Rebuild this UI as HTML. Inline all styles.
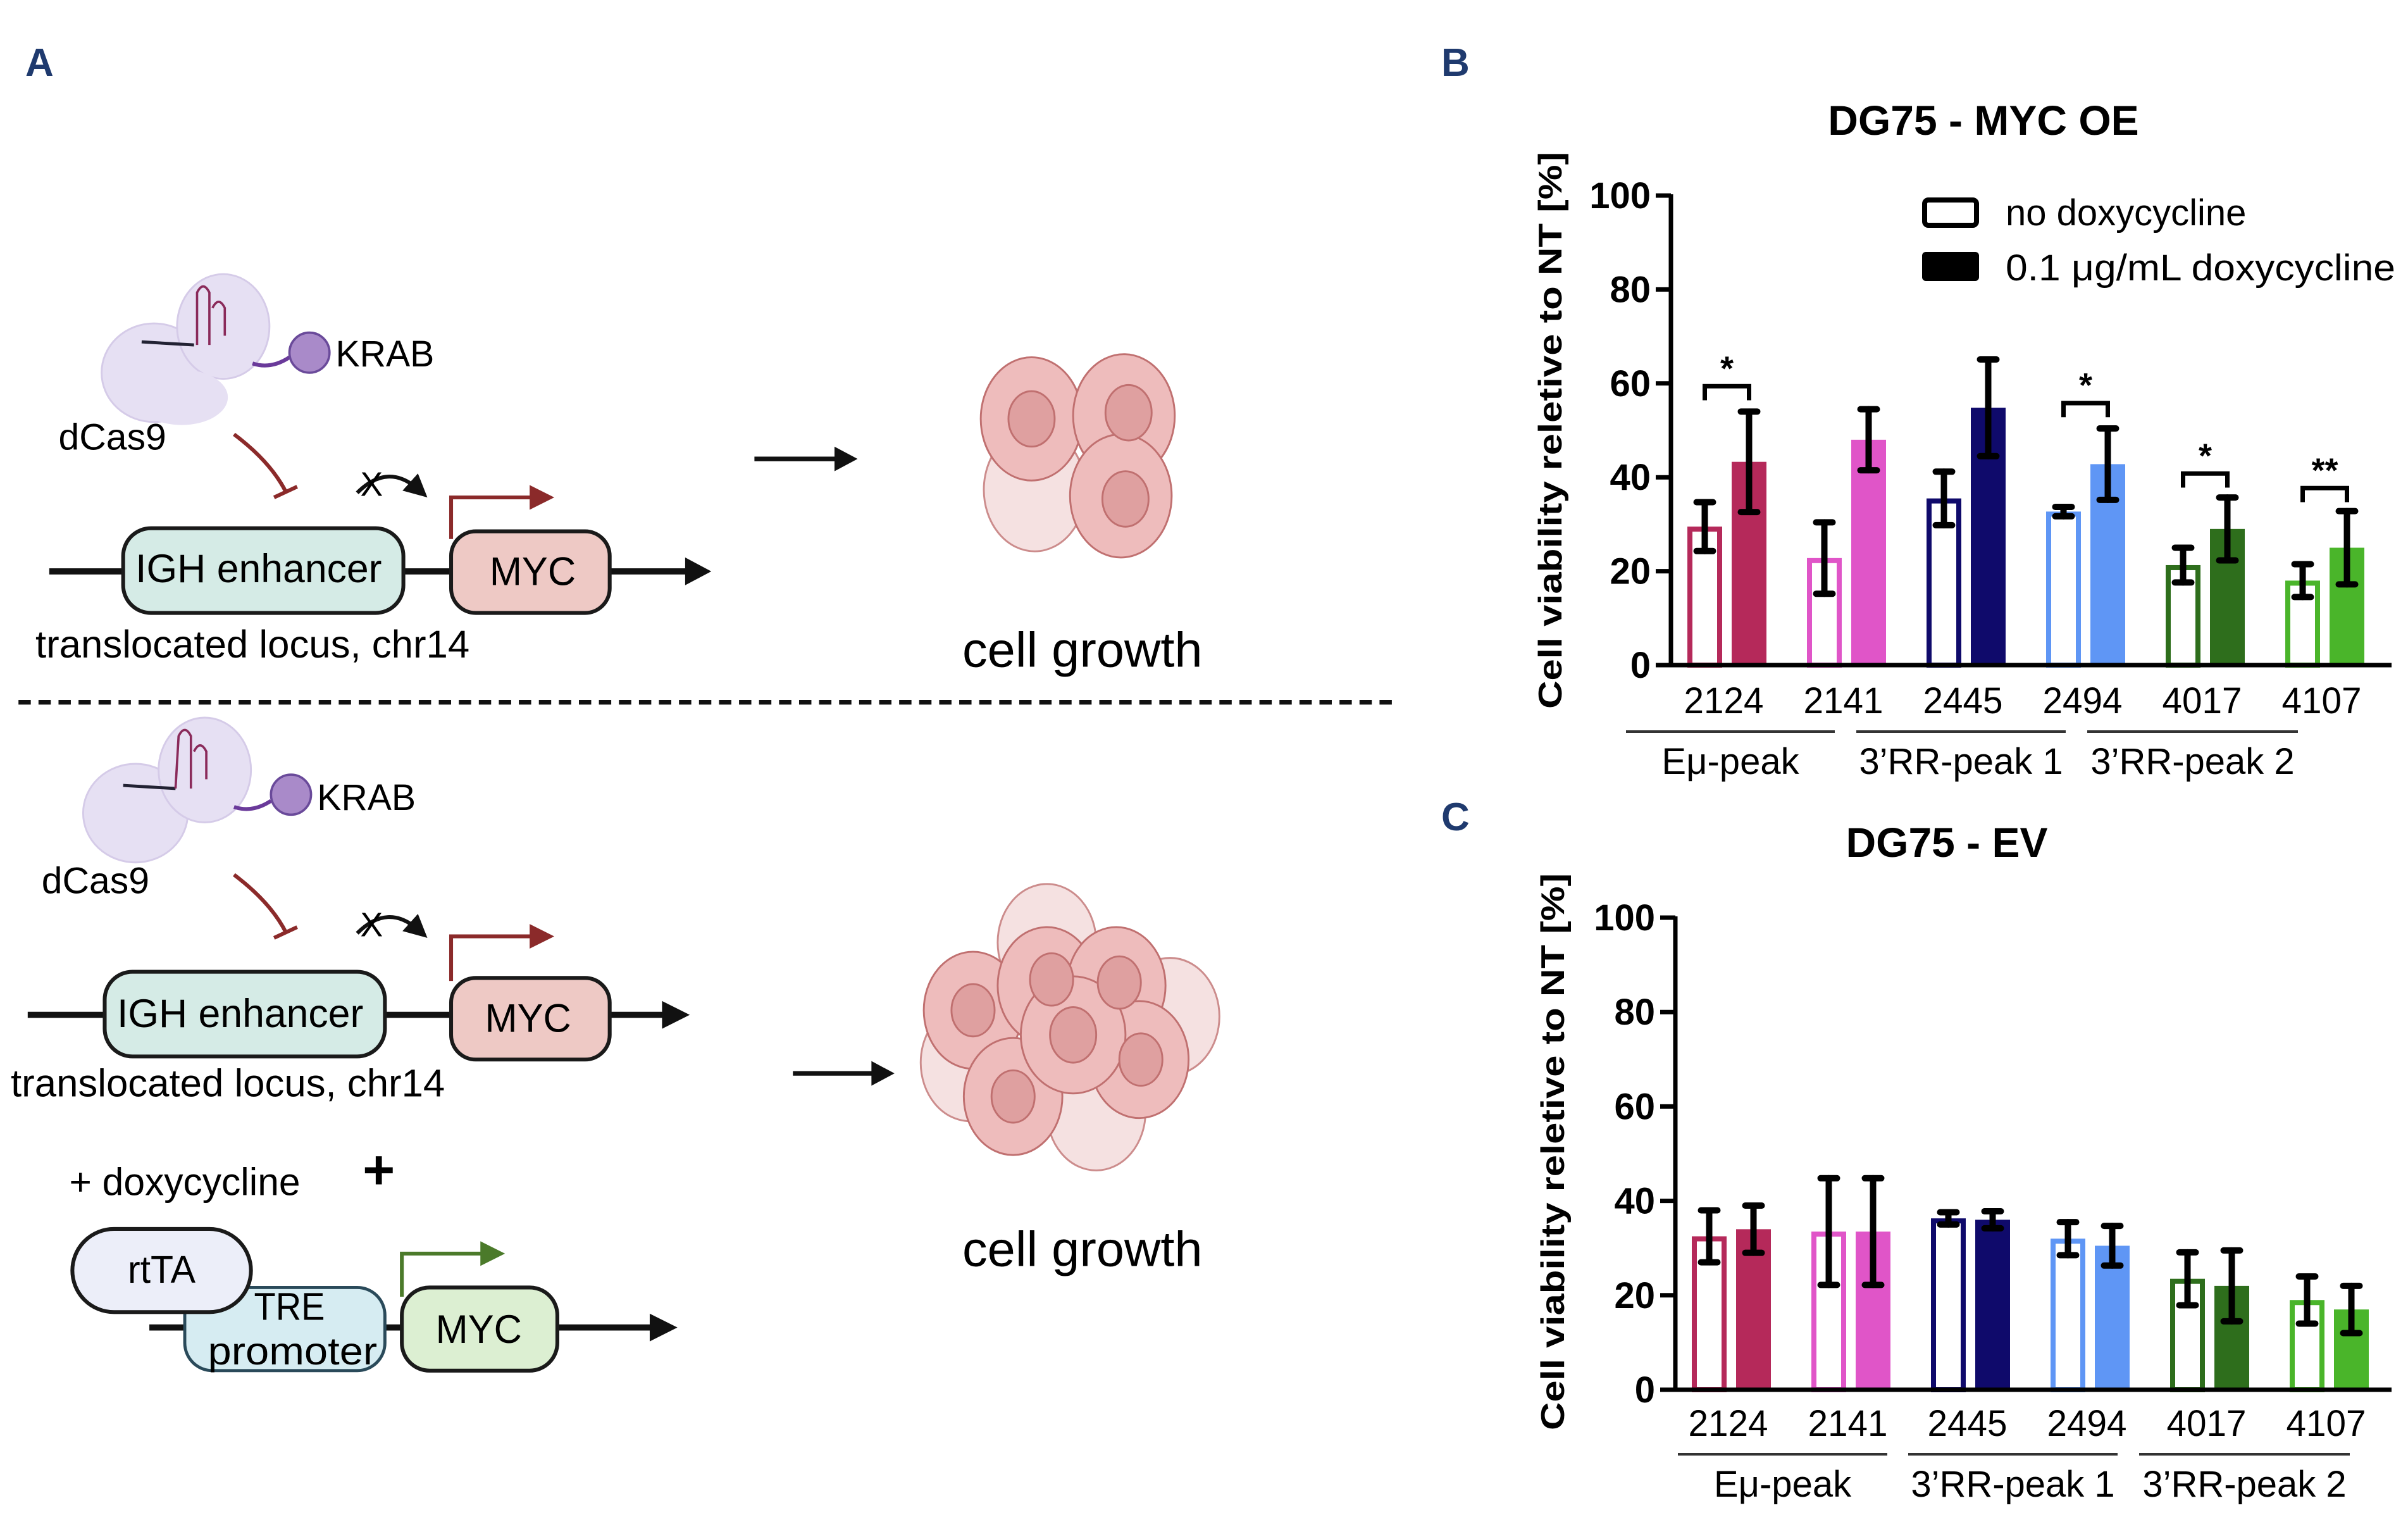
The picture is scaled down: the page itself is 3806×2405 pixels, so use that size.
<!DOCTYPE html>
<html><head><meta charset="utf-8">
<style>
html,body{margin:0;padding:0;background:#fff;}
svg{display:block;}
text{font-family:"Liberation Sans",Arial,sans-serif;}
</style></head>
<body>
<svg id="fig" width="3806" height="2405" viewBox="0 0 3806 2405" xmlns="http://www.w3.org/2000/svg">
<rect width="3806" height="2405" fill="#fff"/>
<text x="40" y="120" font-size="62" font-weight="bold" fill="#1f3a6e">A</text>
<text x="2278" y="120" font-size="62" font-weight="bold" fill="#1f3a6e">B</text>
<text x="2278" y="1312" font-size="62" font-weight="bold" fill="#1f3a6e">C</text>

<g transform="scale(2.4335)">
  <defs>
    <marker id="ah" markerWidth="6" markerHeight="6" refX="3" refY="3" orient="auto"><path d="M0,0 L6,3 L0,6 z" fill="#111"/></marker>
  </defs>
  <g>
    <ellipse cx="100" cy="242" rx="34" ry="32" fill="#e6e0f3" stroke="#d5cbe8" stroke-width="1.2"/>
    <ellipse cx="145" cy="212" rx="30" ry="34" fill="#e6e0f3" stroke="#d5cbe8" stroke-width="1.2"/>
    <ellipse cx="118" cy="258" rx="30" ry="18" fill="#e6e0f3"/>
    <path d="M128,224 L128,190 Q132,182 136,190 L136,224 M138,200 Q142,192 146,200 L146,218" stroke="#8a2a5a" stroke-width="1.5" fill="none"/>
    <line x1="92" y1="222" x2="126" y2="224" stroke="#223" stroke-width="2"/>
    <path d="M164,236 Q176,240 188,232" stroke="#6a3a9a" stroke-width="2.5" fill="none"/>
    <circle cx="201" cy="229" r="13" fill="#a98ac9" stroke="#6a4a9a" stroke-width="1.5"/>
  </g>
  <text x="218" y="238" font-size="24" textLength="64" lengthAdjust="spacingAndGlyphs">KRAB</text>
  <text x="38" y="292" font-size="24" textLength="70" lengthAdjust="spacingAndGlyphs">dCas9</text>
  <path d="M152,282 Q176,300 186,320" stroke="#8b2a2a" stroke-width="2.5" fill="none"/>
  <line x1="178" y1="323" x2="193" y2="316" stroke="#8b2a2a" stroke-width="2.5"/>
  <path d="M232,320 Q252,300 272,318" stroke="#111" stroke-width="2.5" fill="none" marker-end="url(#ah)"/>
  <text x="234" y="322" font-size="22">X</text>
  <path d="M293,350 L293,323 L346,323" stroke="#8b2a2a" stroke-width="2.5" fill="none"/>
  <path d="M344,315 L360,323 L344,331 z" fill="#8b2a2a"/>
  <line x1="32" y1="371" x2="448" y2="371" stroke="#111" stroke-width="4"/>
  <path d="M445,362 L462,371 L445,380 z" fill="#111"/>
  <rect x="80" y="343" width="182" height="55" rx="18" fill="#d5ebe6" stroke="#1a1a1a" stroke-width="2.5"/>
  <text x="168" y="378" font-size="26" text-anchor="middle" textLength="160" lengthAdjust="spacingAndGlyphs">IGH enhancer</text>
  <rect x="293" y="345" width="103" height="53" rx="16" fill="#eec9c5" stroke="#1a1a1a" stroke-width="2.5"/>
  <text x="346" y="380" font-size="26" text-anchor="middle" textLength="56" lengthAdjust="spacingAndGlyphs">MYC</text>
  <text x="23" y="427" font-size="25" textLength="282" lengthAdjust="spacingAndGlyphs">translocated locus, chr14</text>
  <line x1="490" y1="298" x2="545" y2="298" stroke="#111" stroke-width="3"/>
  <path d="M542,290 L557,298 L542,306 z" fill="#111"/>
  <g stroke="#c07070" stroke-width="1.2">
    <ellipse cx="672" cy="318" rx="33" ry="40" fill="#f3dada" opacity="0.8"/>
    <ellipse cx="670" cy="272" rx="33" ry="40" fill="#eebcbc"/>
    <ellipse cx="730" cy="270" rx="33" ry="40" fill="#eebcbc"/>
    <ellipse cx="728" cy="322" rx="33" ry="40" fill="#eebcbc"/>
    <ellipse cx="670" cy="272" rx="15" ry="18" fill="#dfa0a0"/>
    <ellipse cx="733" cy="268" rx="15" ry="18" fill="#dfa0a0"/>
    <ellipse cx="731" cy="324" rx="15" ry="18" fill="#dfa0a0"/>
  </g>
  <text x="703" y="433" font-size="32" text-anchor="middle" textLength="156" lengthAdjust="spacingAndGlyphs">cell growth</text>
  <line x1="12" y1="456" x2="905" y2="456" stroke="#111" stroke-width="3" stroke-dasharray="8,5"/>
  <g>
    <ellipse cx="88" cy="528" rx="34" ry="32" fill="#e6e0f3" stroke="#d5cbe8" stroke-width="1.2"/>
    <ellipse cx="133" cy="500" rx="30" ry="34" fill="#e6e0f3" stroke="#d5cbe8" stroke-width="1.2"/>
    <line x1="80" y1="510" x2="114" y2="512" stroke="#223" stroke-width="2"/>
    <path d="M114,512 L116,478 Q120,470 124,478 L124,512 M126,488 Q130,480 134,488 L134,506" stroke="#8a2a5a" stroke-width="1.5" fill="none"/>
    <path d="M152,524 Q164,528 176,520" stroke="#6a3a9a" stroke-width="2.5" fill="none"/>
    <circle cx="189" cy="516" r="13" fill="#a98ac9" stroke="#6a4a9a" stroke-width="1.5"/>
  </g>
  <text x="206" y="526" font-size="24" textLength="64" lengthAdjust="spacingAndGlyphs">KRAB</text>
  <text x="27" y="580" font-size="24" textLength="70" lengthAdjust="spacingAndGlyphs">dCas9</text>
  <path d="M152,568 Q176,586 186,606" stroke="#8b2a2a" stroke-width="2.5" fill="none"/>
  <line x1="178" y1="609" x2="193" y2="602" stroke="#8b2a2a" stroke-width="2.5"/>
  <path d="M232,606 Q252,586 272,604" stroke="#111" stroke-width="2.5" fill="none" marker-end="url(#ah)"/>
  <text x="234" y="608" font-size="22">X</text>
  <path d="M293,637 L293,608 L346,608" stroke="#8b2a2a" stroke-width="2.5" fill="none"/>
  <path d="M344,600 L360,608 L344,616 z" fill="#8b2a2a"/>
  <line x1="18" y1="659" x2="432" y2="659" stroke="#111" stroke-width="4"/>
  <path d="M430,650 L448,659 L430,668 z" fill="#111"/>
  <rect x="68" y="631" width="182" height="55" rx="18" fill="#d5ebe6" stroke="#1a1a1a" stroke-width="2.5"/>
  <text x="156" y="667" font-size="26" text-anchor="middle" textLength="160" lengthAdjust="spacingAndGlyphs">IGH enhancer</text>
  <rect x="293" y="635" width="103" height="53" rx="16" fill="#eec9c5" stroke="#1a1a1a" stroke-width="2.5"/>
  <text x="343" y="670" font-size="26" text-anchor="middle" textLength="56" lengthAdjust="spacingAndGlyphs">MYC</text>
  <text x="7" y="712" font-size="25" textLength="282" lengthAdjust="spacingAndGlyphs">translocated locus, chr14</text>
  <text x="45" y="776" font-size="25" textLength="150" lengthAdjust="spacingAndGlyphs">+ doxycycline</text>
  <text x="246" y="772" font-size="36" font-weight="bold" text-anchor="middle">+</text>
  <line x1="97" y1="862" x2="425" y2="862" stroke="#111" stroke-width="4"/>
  <path d="M422,853 L440,862 L422,871 z" fill="#111"/>
  <rect x="120" y="836" width="130" height="54" rx="18" fill="#d6ecf2" stroke="#2a4a5a" stroke-width="2"/>
  <text x="188" y="857" font-size="25" text-anchor="middle" textLength="46" lengthAdjust="spacingAndGlyphs">TRE</text>
  <text x="190" y="886" font-size="25" text-anchor="middle" textLength="110" lengthAdjust="spacingAndGlyphs">promoter</text>
  <rect x="47" y="798" width="116" height="54" rx="27" fill="#eceef9" stroke="#1a1a1a" stroke-width="2.5"/>
  <text x="105" y="833" font-size="25" text-anchor="middle" textLength="44" lengthAdjust="spacingAndGlyphs">rtTA</text>
  <rect x="261" y="836" width="101" height="54" rx="18" fill="#dcefd2" stroke="#1a1a1a" stroke-width="2.5"/>
  <text x="311" y="872" font-size="26" text-anchor="middle" textLength="56" lengthAdjust="spacingAndGlyphs">MYC</text>
  <path d="M261,842 L261,814 L314,814" stroke="#4b7a2a" stroke-width="2.5" fill="none"/>
  <path d="M312,806 L328,814 L312,822 z" fill="#4b7a2a"/>
  <line x1="515" y1="697" x2="568" y2="697" stroke="#111" stroke-width="3"/>
  <path d="M566,689 L581,697 L566,705 z" fill="#111"/>
  <g stroke="#c07070" stroke-width="1.2">
    <ellipse cx="680" cy="612" rx="32" ry="38" fill="#f3dada" opacity="0.8"/>
    <ellipse cx="760" cy="660" rx="32" ry="38" fill="#f3dada" opacity="0.8"/>
    <ellipse cx="712" cy="722" rx="32" ry="38" fill="#f3dada" opacity="0.8"/>
    <ellipse cx="630" cy="690" rx="32" ry="38" fill="#f3dada" opacity="0.8"/>
    <ellipse cx="632" cy="656" rx="32" ry="38" fill="#eebcbc"/>
    <ellipse cx="680" cy="640" rx="32" ry="38" fill="#eebcbc"/>
    <ellipse cx="725" cy="640" rx="32" ry="38" fill="#eebcbc"/>
    <ellipse cx="740" cy="688" rx="32" ry="38" fill="#eebcbc"/>
    <ellipse cx="658" cy="712" rx="32" ry="38" fill="#eebcbc"/>
    <ellipse cx="697" cy="672" rx="34" ry="38" fill="#eebcbc"/>
    <ellipse cx="632" cy="656" rx="14" ry="17" fill="#dfa0a0"/>
    <ellipse cx="683" cy="636" rx="14" ry="17" fill="#dfa0a0"/>
    <ellipse cx="727" cy="638" rx="14" ry="17" fill="#dfa0a0"/>
    <ellipse cx="741" cy="688" rx="14" ry="17" fill="#dfa0a0"/>
    <ellipse cx="658" cy="712" rx="14" ry="17" fill="#dfa0a0"/>
    <ellipse cx="697" cy="672" rx="15" ry="18" fill="#dfa0a0"/>
  </g>
  <text x="703" y="822" font-size="32" text-anchor="middle" textLength="156" lengthAdjust="spacingAndGlyphs">cell growth</text>
</g>

<g id="chartB"></g>
<g id="chartC"></g>
</svg>
<script>
const categories = ["2124","2141","2445","2494","4017","4107"];
const colors = ["#b5295a","#e055c8","#0f0a6b","#5f96f5","#2e6e1c","#4ab52a"];
const groups = ["Eμ-peak","3’RR-peak 1","3’RR-peak 2"];
const yTicks = [0,20,40,60,80,100];
const bOpen = [29.5,22.8,35.5,32.7,21.3,18.0];
const bOpenErr = [5.2,7.6,5.7,1.0,3.7,3.5];
const bDox = [43.3,48.0,54.8,42.8,29.0,25.0];
const bDoxErr = [10.7,6.5,10.3,7.6,6.7,7.8];
const bSigIdx = [0,3,4,5];
const bSigY = [59.4,55.8,40.8,37.7];
const bSigLabel = ["*","*","*","**"];
const cOpen = [32.5,33.5,36.3,32.0,23.5,19.0];
const cOpenErr = [5.5,11.3,1.3,3.5,5.6,5.0];
const cDox = [34.0,33.5,36.0,30.5,22.0,17.0];
const cDoxErr = [5.0,11.3,1.8,4.2,7.5,5.0];

const NS="http://www.w3.org/2000/svg";
function mk(parent,tag,attrs){const e=document.createElementNS(NS,tag);for(const k in attrs)e.setAttribute(k,attrs[k]);parent.appendChild(e);return e;}

function drawChart(g,cfg){
  const y=v=>cfg.y0-(cfg.y0-cfg.y100)*v/100;
  const xOpen=i=>cfg.xFirst+cfg.step*i;
  const bw=55, gap=15;
  const t=mk(g,"text",{x:cfg.titleX,y:cfg.titleY,"font-size":66,"font-weight":"bold","text-anchor":"middle"});
  t.textContent=cfg.title;
  
  
  const yt=mk(g,"text",{x:0,y:0,"font-size":52,"font-weight":"bold","text-anchor":"middle",transform:`translate(${cfg.ytX},${cfg.ytY}) rotate(-90)`,textLength:cfg.ytLen,lengthAdjust:"spacingAndGlyphs"});
  yt.textContent="Cell viability reletive to NT [%]";
  
  
  categories.forEach((c,i)=>{
    const xo=xOpen(i), xd=xo+bw+gap;
    const ob=mk(g,"rect",{x:xo+4,y:y(cfg.open[i])+4,width:bw-8,height:y(0)-y(cfg.open[i])-4,fill:"#fff",stroke:colors[i],"stroke-width":8});
    
    
    const db=mk(g,"rect",{x:xd,y:y(cfg.dox[i]),width:bw,height:y(0)-y(cfg.dox[i]),fill:colors[i]});
    
    
    [[xo+bw/2,cfg.open[i],cfg.openErr[i]],[xd+bw/2,cfg.dox[i],cfg.doxErr[i]]].forEach(([cx,m,e],k)=>{
      const eg=mk(g,"g",{stroke:"#000","stroke-width":10,"stroke-linecap":"round"});
      
      
      mk(eg,"line",{x1:cx,x2:cx,y1:y(m-e),y2:y(m+e)});
      mk(eg,"line",{x1:cx-13,x2:cx+13,y1:y(m-e),y2:y(m-e)});
      mk(eg,"line",{x1:cx-13,x2:cx+13,y1:y(m+e),y2:y(m+e)});
    });
    const lb=mk(g,"text",{x:xo+bw+gap/2-5,y:cfg.catY,"font-size":58,"text-anchor":"middle",textLength:126,lengthAdjust:"spacingAndGlyphs"});
    lb.textContent=c;
    
    
  });
  if(cfg.sigIdx){
    cfg.sigIdx.forEach((i,k)=>{
      const x1=xOpen(i)+bw/2, x2=xOpen(i)+bw+gap+bw/2, yy=y(cfg.sigY[k]), yb=y(cfg.sigY[k]-3);
      const p=mk(g,"path",{d:`M${x1},${yb} L${x1},${yy} L${x2},${yy} L${x2},${yb}`,fill:"none",stroke:"#000","stroke-width":7});
      
      
      const s=mk(g,"text",{x:(x1+x2)/2,y:yy-10,"font-size":54,"font-weight":"bold","text-anchor":"middle"});
      s.textContent=cfg.sigLabel[k];
      
      
    });
  }
  const ax=mk(g,"path",{d:`M${cfg.axX},${y(100)-2} L${cfg.axX},${y(0)} L${cfg.xEnd},${y(0)}`,fill:"none",stroke:"#000","stroke-width":7});
  
  
  yTicks.forEach(v=>{
    mk(g,"line",{x1:cfg.axX-24,x2:cfg.axX,y1:y(v),y2:y(v),stroke:"#000","stroke-width":7});
    const tl=mk(g,"text",{x:cfg.axX-32,y:y(v)+20,"font-size":58,"font-weight":"bold","text-anchor":"end"});
    tl.textContent=v;
    
    
  });
  groups.forEach((gn,k)=>{
    const [a,b]=cfg.groupX[k];
    const gl=mk(g,"line",{x1:a,x2:b,y1:cfg.grpLineY,y2:cfg.grpLineY,stroke:"#333","stroke-width":4});
    
    
    const gt=mk(g,"text",{x:(a+b)/2,y:cfg.grpY,"font-size":58,"text-anchor":"middle"});
    gt.textContent=gn;
    
    
  });
}

drawChart(document.getElementById('chartB'),{
  title:"DG75 - MYC OE",titleX:3135,titleY:213,ytX:2468,ytY:680,ytLen:880,
  y0:1051,y100:309,axX:2641,xEnd:3780,xFirst:2667,step:189,
  open:bOpen,openErr:bOpenErr,dox:bDox,doxErr:bDoxErr,
  sigIdx:bSigIdx,sigY:bSigY,sigLabel:bSigLabel,
  catY:1127,grpLineY:1156,grpY:1223,groupX:[[2570,2900],[2934,3265],[3299,3632]]
});
drawChart(document.getElementById('chartC'),{
  title:"DG75 - EV",titleX:3077,titleY:1354,ytX:2472,ytY:1820,ytLen:880,
  y0:2196,y100:1450,axX:2648,xEnd:3780,xFirst:2674,step:189,
  open:cOpen,openErr:cOpenErr,dox:cDox,doxErr:cDoxErr,
  catY:2269,grpLineY:2298,grpY:2365,groupX:[[2652,2983],[3016,3347],[3381,3714]]
});

const lg=document.getElementById('chartB');
const l1=mk(lg,"rect",{x:3042,y:316,width:82,height:40,rx:6,fill:"#fff",stroke:"#000","stroke-width":8});


const l2=mk(lg,"rect",{x:3038,y:398,width:90,height:46,rx:6,fill:"#000"});


const lt1=mk(lg,"text",{x:3170,y:356,"font-size":58});
lt1.textContent="no doxycycline";


const lt2=mk(lg,"text",{x:3170,y:443,"font-size":58,textLength:616,lengthAdjust:"spacingAndGlyphs"});
lt2.textContent="0.1 μg/mL doxycycline";


</script>
</body></html>
